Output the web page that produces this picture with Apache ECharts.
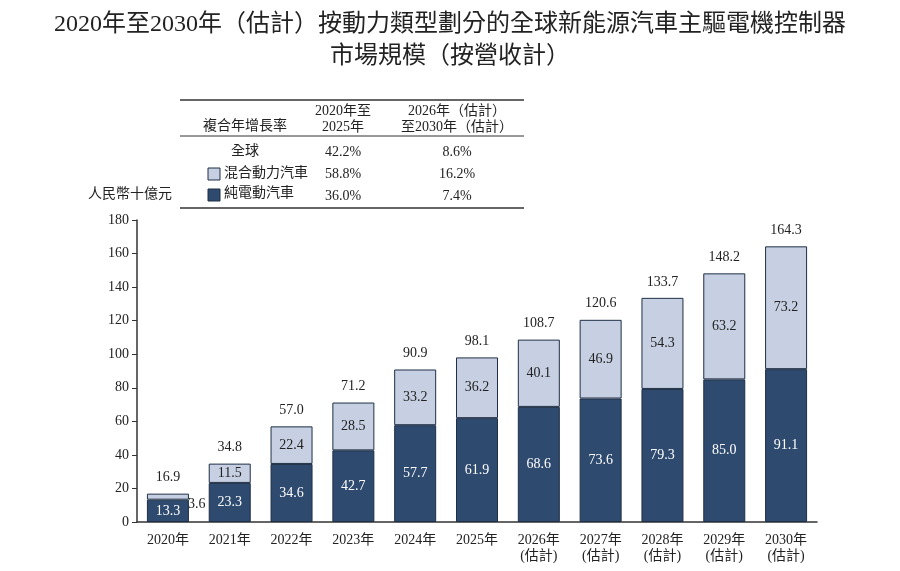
<!DOCTYPE html>
<html><head><meta charset="utf-8">
<script src="https://cdn.jsdelivr.net/npm/echarts@6/dist/echarts.min.js"></script>
<style>html,body{margin:0;background:#fff}#c{width:900px;height:571px}</style>
</head><body><div id="c"></div>
<script>
var years = ['2020年','2021年','2022年','2023年','2024年','2025年','2026年\n(估計)','2027年\n(估計)','2028年\n(估計)','2029年\n(估計)','2030年\n(估計)'];
var bev = [13.3,23.3,34.6,42.7,57.7,61.9,68.6,73.6,79.3,85.0,91.1];
var phev = [3.6,11.5,22.4,28.5,33.2,36.2,40.1,46.9,54.3,63.2,73.2];
var totals = [16.9,34.8,57.0,71.2,90.9,98.1,108.7,120.6,133.7,148.2,164.3];
var yTicks = [0,20,40,60,80,100,120,140,160,180];

var serif = '"Liberation Serif","Noto Sans CJK TC",serif';
var dark = '#2f4a6f', light = '#c6d0e2', edge = '#1f2f45';
var F = '14px ' + serif;
var chart = echarts.init(document.getElementById('c'));

var g = [
  {type:'line',shape:{x1:180,y1:100,x2:524,y2:100},style:{stroke:'#333',lineWidth:1.5}},
  {type:'line',shape:{x1:180,y1:136,x2:524,y2:136},style:{stroke:'#333',lineWidth:1}},
  {type:'line',shape:{x1:180,y1:208,x2:524,y2:208},style:{stroke:'#333',lineWidth:1.5}},
  {type:'text',x:245,y:119,style:{text:'複合年增長率',font:F,fill:'#222',align:'center'}},
  {type:'text',x:343,y:103,style:{text:'2020年至\n2025年',font:F,fill:'#222',align:'center',lineHeight:16}},
  {type:'text',x:457,y:103,style:{text:'2026年（估計）\n至2030年（估計）',font:F,fill:'#222',align:'center',lineHeight:16}},
  {type:'text',x:245,y:144,style:{text:'全球',font:F,fill:'#222',align:'center'}},
  {type:'text',x:343,y:145,style:{text:'42.2%',font:F,fill:'#222',align:'center'}},
  {type:'text',x:457,y:145,style:{text:'8.6%',font:F,fill:'#222',align:'center'}},
  {type:'rect',shape:{x:208,y:168,width:12,height:12},style:{fill:light,stroke:edge}},
  {type:'text',x:224,y:166,style:{text:'混合動力汽車',font:F,fill:'#222'}},
  {type:'text',x:343,y:167,style:{text:'58.8%',font:F,fill:'#222',align:'center'}},
  {type:'text',x:457,y:167,style:{text:'16.2%',font:F,fill:'#222',align:'center'}},
  {type:'rect',shape:{x:208,y:189,width:12,height:12},style:{fill:dark,stroke:edge}},
  {type:'text',x:224,y:186,style:{text:'純電動汽車',font:F,fill:'#222'}},
  {type:'text',x:343,y:189,style:{text:'36.0%',font:F,fill:'#222',align:'center'}},
  {type:'text',x:457,y:189,style:{text:'7.4%',font:F,fill:'#222',align:'center'}},
  {type:'text',x:88,y:187,style:{text:'人民幣十億元',font:F,fill:'#222'}}
];

chart.setOption({
  animation:false,
  title:{text:'2020年至2030年（估計）按動力類型劃分的全球新能源汽車主驅電機控制器\n市場規模（按營收計）',left:'center',top:4,
    textStyle:{fontFamily:serif,fontSize:24,fontWeight:'normal',color:'#222',lineHeight:32}},
  graphic:g,
  grid:{left:137,right:83,top:220,bottom:49},
  xAxis:{type:'category',data:years,axisTick:{show:false},
    axisLine:{lineStyle:{color:'#333',width:1.5}},
    axisLabel:{fontFamily:serif,fontSize:14,color:'#222',lineHeight:16,margin:10}},
  yAxis:{type:'value',min:0,max:180,interval:20,splitLine:{show:false},
    axisLine:{show:true,lineStyle:{color:'#333',width:1.5}},
    axisTick:{show:true,length:5,lineStyle:{color:'#333'}},
    axisLabel:{fontFamily:serif,fontSize:14,color:'#222',formatter:function(v){return yTicks.indexOf(v)>=0?v:'';}}},
  series:[
    {name:'純電動汽車',type:'bar',stack:'a',barWidth:42,data:bev,
      itemStyle:{color:dark,borderColor:edge,borderWidth:1},
      label:{show:true,color:'#fff',fontFamily:serif,fontSize:14,formatter:function(p){return p.value.toFixed(1);}}},
    {name:'混合動力汽車',type:'bar',stack:'a',data:phev.map(function(v,i){
        return i===0?{value:v,label:{position:'right',color:'#222',offset:[-6,8]}}:v;}),
      itemStyle:{color:light,borderColor:edge,borderWidth:1},
      label:{show:true,color:'#222',fontFamily:serif,fontSize:14,formatter:function(p){return p.value.toFixed(1);}}},
    {name:'total',type:'bar',stack:'a',data:totals.map(function(){return 0;}),
      itemStyle:{color:'transparent'},
      label:{show:true,position:'top',color:'#222',fontFamily:serif,fontSize:14,distance:9,
        formatter:function(p){return totals[p.dataIndex].toFixed(1);}}}
  ]
});
</script></body></html>
